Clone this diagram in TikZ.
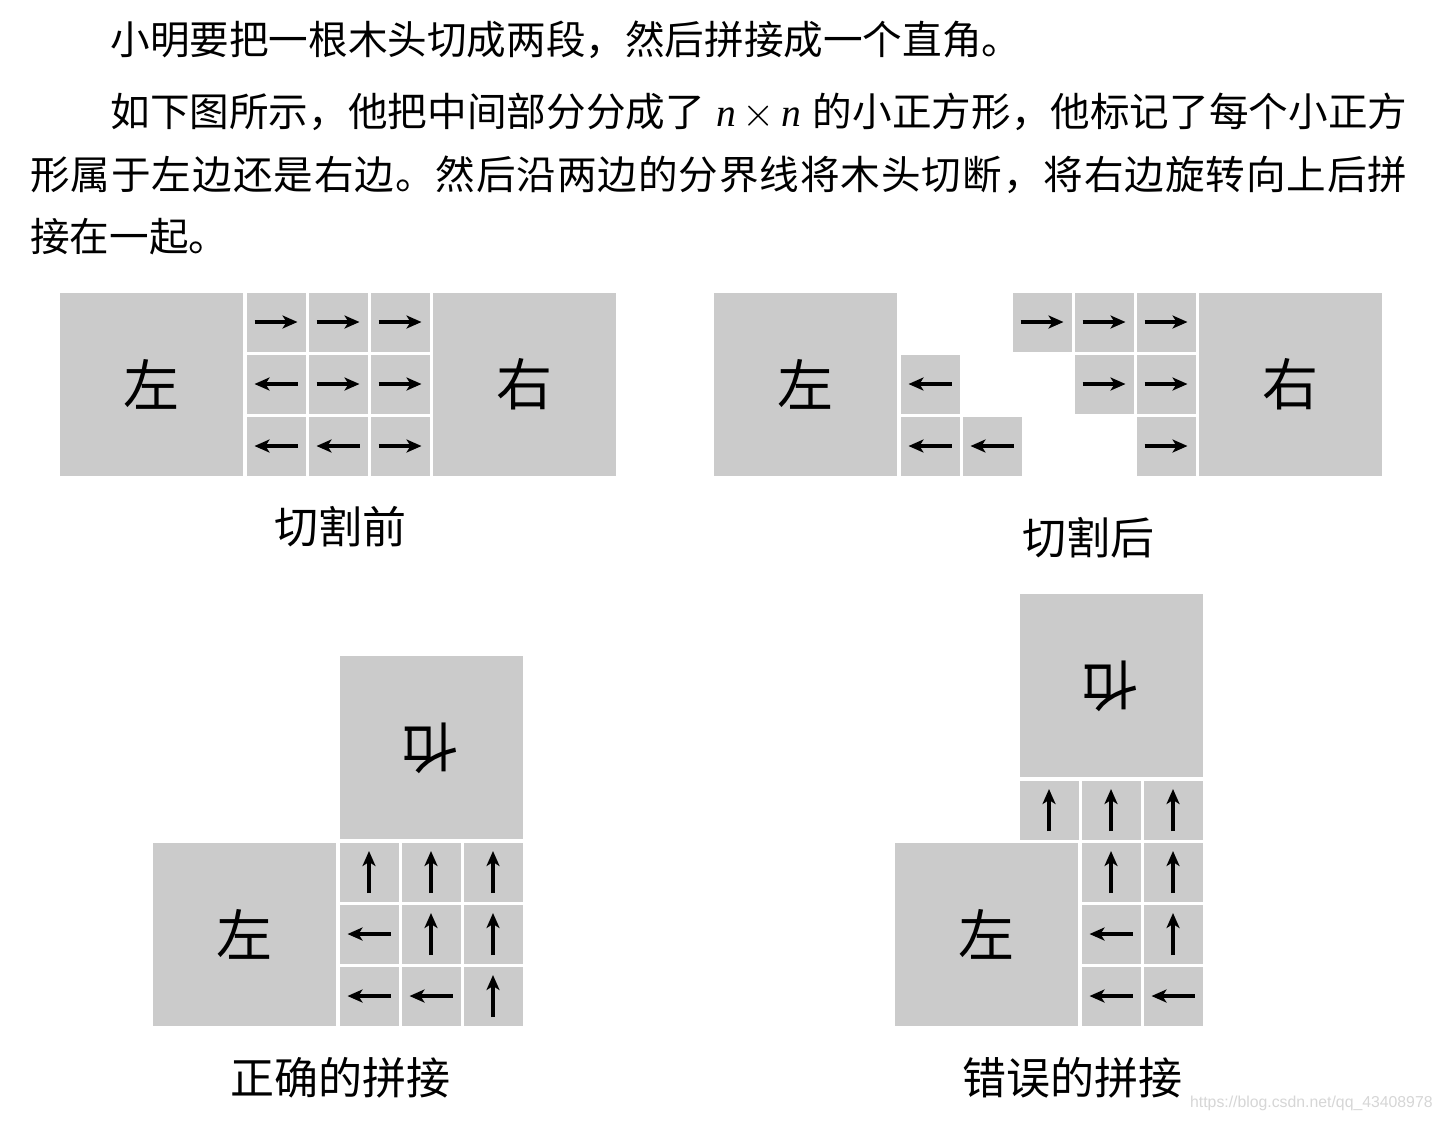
\documentclass[tikz,border=0pt]{standalone}
\usepackage{fontspec}
\usepackage{graphicx}
\usetikzlibrary{arrows.meta}
\newfontfamily\cjk{Noto Sans CJK SC}
\newfontfamily\tms{Liberation Serif}
\newfontfamily\wmk{Liberation Sans}
\definecolor{boxgray}{RGB}{203,203,203}
\definecolor{wmgray}{RGB}{214,214,214}
\def\spreadchars#1{#1\spreadB}
\def\spreadB#1{\ifx\relax#1\else\hfill#1\expandafter\spreadB\fi}
\tikzset{
 bigbox/.style={fill=boxgray, draw=none, minimum width=91.5pt, minimum height=91.5pt, inner sep=0pt, font=\cjk\fontsize{28pt}{28pt}\selectfont},
 cell/.style={fill=boxgray, draw=none, minimum width=29.5pt, minimum height=29.5pt, inner sep=0pt},
 arr/.style={line width=1.6pt, -{Stealth[length=7.5pt,width=6.5pt,inset=2pt]}, black},
 lbl/.style={font=\cjk\fontsize{22pt}{22pt}\selectfont, inner sep=0pt},
 para/.style={font=\cjk\fontsize{19.8pt}{24pt}\selectfont, inner sep=0pt, anchor=base west},
}
\newcommand\cR[3]{\node[cell] (#1) at (#2,#3) {}; \draw[arr] ([xshift=-10.75pt]#1.center) -- ([xshift=10.75pt]#1.center);}
\newcommand\cL[3]{\node[cell] (#1) at (#2,#3) {}; \draw[arr] ([xshift=10.75pt]#1.center) -- ([xshift=-10.75pt]#1.center);}
\newcommand\cU[3]{\node[cell] (#1) at (#2,#3) {}; \draw[arr] ([yshift=-10.5pt]#1.center) -- ([yshift=10.5pt]#1.center);}
\newcommand\rotyou{\reflectbox{\rotatebox{90}{右}}}
\begin{document}
\begin{tikzpicture}[x=0.5pt,y=-0.5pt]
\useasboundingbox[fill=white] (0,0) rectangle (1443,1121);
% paragraph
\node[para] (t1) at (110,54) {小明要把一根木头切成两段，然后拼接成一个直角。};
\node[para] (t2) at (110,126.5) {\makebox[648.5pt][s]{\spreadchars 如下图所示，他把中间部分分成了\relax\hfill\hspace{6pt}{\tms\itshape n}\hspace{3pt}$\times$\hspace{3pt}{\tms\itshape n}\hspace{6pt}\hfill\spreadchars 的小正方形，他标记了每个小正方\relax}};
\node[para] (t3) at (30,189) {\makebox[688.5pt][s]{\spreadchars 形属于左边还是右边。然后沿两边的分界线将木头切断，将右边旋转向上后拼\relax}};
\node[para] (t4) at (30,251) {接在一起。};
% figure 1
\node[bigbox] (f1L) at (151.5,384) {左};
\node[bigbox] (f1R) at (524.5,384) {右};
\cR{a00}{276}{322} \cR{a01}{338}{322} \cR{a02}{400}{322}
\cL{a10}{276}{384} \cR{a11}{338}{384} \cR{a12}{400}{384}
\cL{a20}{276}{446} \cL{a21}{338}{446} \cR{a22}{400}{446}
\node[lbl] (cap1) at (340,527) {切割前};
% figure 2
\node[bigbox] (f2L) at (805.5,384) {左};
\node[bigbox] (f2R) at (1290.5,384) {右};
\cL{b10}{930}{384} \cL{b20}{930}{446} \cL{b21}{992}{446}
\cR{b00}{1042}{322} \cR{b01}{1104}{322} \cR{b02}{1166}{322}
\cR{b11}{1104}{384} \cR{b12}{1166}{384}
\cR{b22}{1166}{446}
\node[lbl] (cap2) at (1088,538) {切割后};
% figure 3
\node[bigbox] (f3L) at (244.5,934) {左};
\node[bigbox] (f3R) at (431,747) {\rotyou};
\cU{c00}{369}{872} \cU{c01}{431}{872} \cU{c02}{493}{872}
\cL{c10}{369}{934} \cU{c11}{431}{934} \cU{c12}{493}{934}
\cL{c20}{369}{996} \cL{c21}{431}{996} \cU{c22}{493}{996}
\node[lbl] (cap3) at (340,1078) {正确的拼接};
% figure 4
\node[bigbox] (f4L) at (986.5,934) {左};
\node[bigbox] (f4R) at (1111,685.5) {\rotyou};
\cU{d00}{1049}{810} \cU{d01}{1111}{810} \cU{d02}{1173}{810}
\cU{d11}{1111}{872} \cU{d12}{1173}{872}
\cL{d21}{1111}{934} \cU{d22}{1173}{934}
\cL{d31}{1111}{996} \cL{d32}{1173}{996}
\node[lbl] (cap4) at (1072,1078) {错误的拼接};
% watermark
\node[anchor=east, inner sep=0pt, text=wmgray, font=\wmk\fontsize{7.9pt}{8pt}\selectfont] (wm) at (1433,1103) {https://blog.csdn.net/qq\_43408978};
\end{tikzpicture}
\end{document}
